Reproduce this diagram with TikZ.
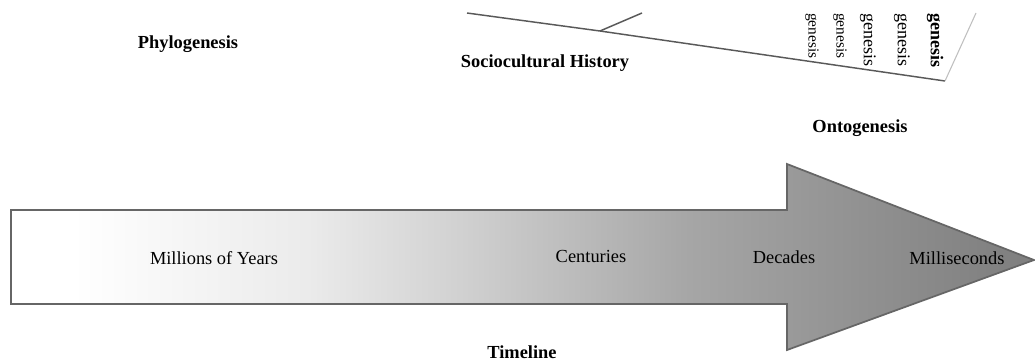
\documentclass[tikz,border=0pt]{standalone}
\usepackage{fontspec}
\setmainfont{Liberation Serif}
\pgfdeclarehorizontalshading{timeshade}{100bp}{color(0bp)=(white); color(25bp)=(white); color(28bp)=(white); color(39.6bp)=(black!8); color(46.9bp)=(black!18); color(58.2bp)=(black!35); color(66.5bp)=(black!43); color(72.8bp)=(black!49); color(75bp)=(black!50); color(100bp)=(black!50)}
\begin{document}
\begin{tikzpicture}[x=0.75pt,y=-0.75pt,
  lbl/.style={font=\fontsize{13.8}{15}\selectfont, inner sep=0pt},
  blbl/.style={font=\fontsize{13.8}{15}\selectfont\bfseries, inner sep=0pt},
  gen/.style={rotate=-90, anchor=west, inner sep=0pt},
  histline/.style={draw=black!65, line width=1.1pt},
  arrowbox/.style={draw=black!60, line width=1.3pt, shading=timeshade}]
\useasboundingbox (0,0) rectangle (1035,362);
% timeline arrow
\path[arrowbox] (11,210) -- (787,210) -- (787,164) -- (1034,260) -- (787,350) -- (787,304) -- (11,304) -- cycle;
\node[lbl] (myears) at (214,258) {Millions of Years};
\node[lbl] (cent) at (591,256) {Centuries};
\node[lbl] (dec) at (784,257) {Decades};
\node[lbl] (ms) at (957,258) {Milliseconds};
\node[blbl] (tl) at (522,352) {Timeline};
% top labels
\node[blbl] (phylo) at (188,44) {Phylogenesis};
\node[blbl] (socio) at (545,63) {Sociocultural History};
\node[blbl] (onto) at (860,128) {Ontogenesis};
% history lines
\coordinate (l0) at (467,13);
\coordinate (br) at (600,31);
\coordinate (bt) at (642,13);
\coordinate (l1) at (945,81);
\coordinate (rt) at (976,13);
\draw[histline] (l0) -- (br) -- (l1);
\draw[histline] (br) -- (bt);
\draw[draw=black!25, line width=0.8pt] (l1) -- (rt);
% genesis labels
\node[gen, font=\fontsize{11.5}{13}\selectfont] (g1) at (812,13) {genesis};
\node[gen, font=\fontsize{11.5}{13}\selectfont] (g2) at (840,13) {genesis};
\node[gen, font=\fontsize{13.5}{15}\selectfont] (g3) at (868,13) {genesis};
\node[gen, font=\fontsize{13.5}{15}\selectfont] (g4) at (902,13) {genesis};
\node[gen, font=\fontsize{13.5}{15}\selectfont\bfseries] (g5) at (935,13) {genesis};
\end{tikzpicture}
\end{document}
